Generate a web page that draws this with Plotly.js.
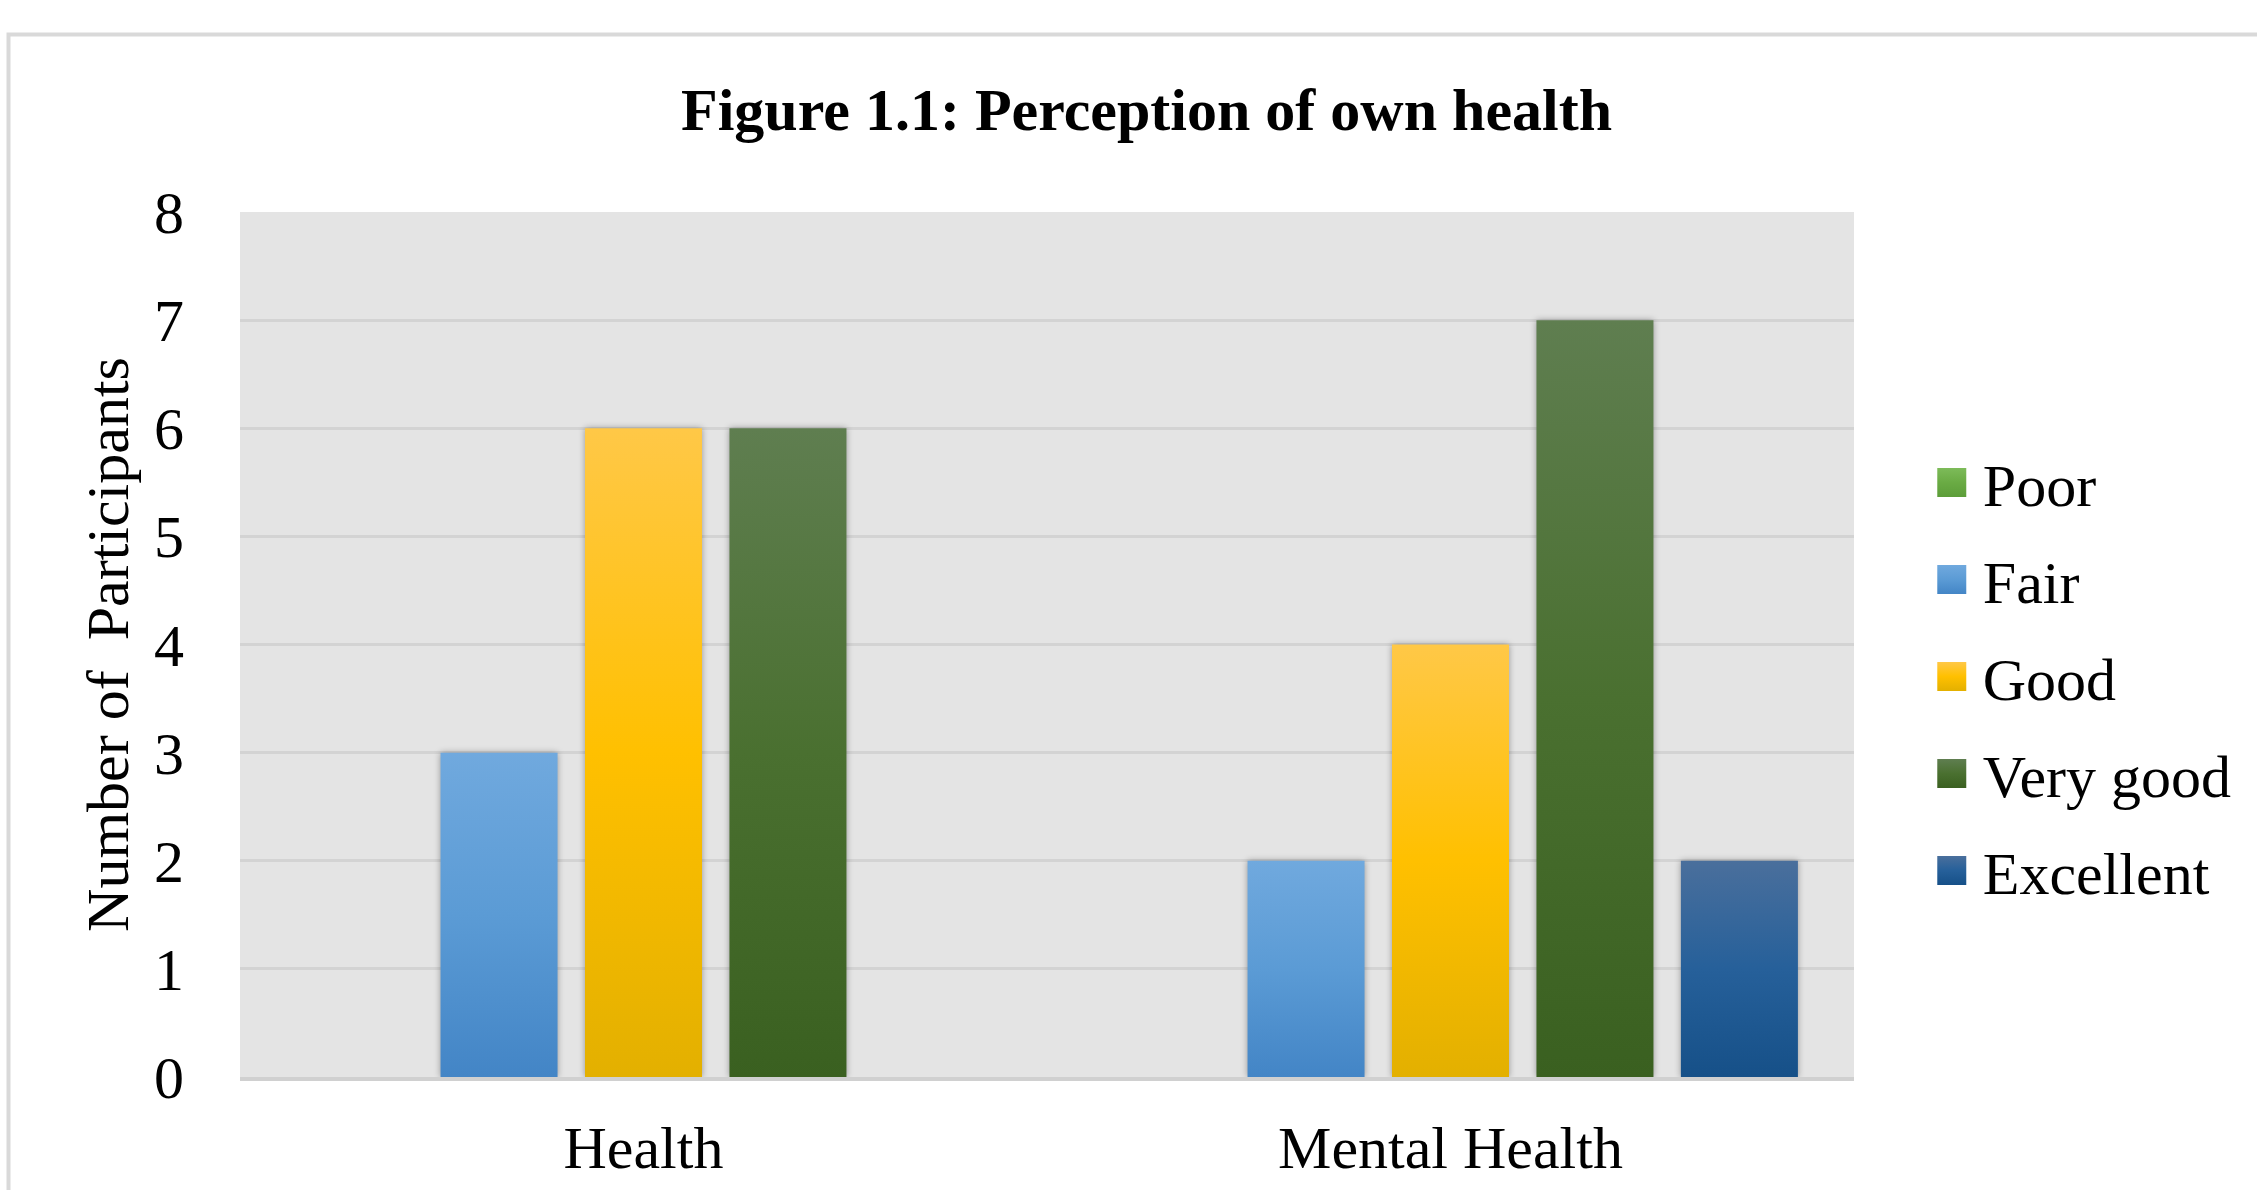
<!DOCTYPE html>
<html>
<head>
<meta charset="utf-8">
<script src="https://cdn.plot.ly/plotly-3.0.1.min.js"></script>
<style>
  html, body { margin: 0; padding: 0; background: #ffffff; }
  #chart { width: 2257px; height: 1190px; }
</style>
</head>
<body>
<div id="chart"></div>
<script>
// ---- Data ----
const categories = ['Health', 'Mental Health'];
const seriesNames = ['Poor', 'Fair', 'Good', 'Very good', 'Excellent'];
const poor = [0, 0];
const fair = [3, 2];
const good = [6, 4];
const veryGood = [6, 7];
const excellent = [0, 2];
const yTicks = [0, 1, 2, 3, 4, 5, 6, 7, 8];

const seriesValues = [poor, fair, good, veryGood, excellent];
// base, top, bottom gradient colours
const seriesColors = ['#6aab44', '#5b9bd5', '#ffc000', '#4a7030', '#26609a'];
const gradTop = ['#7dbb59', '#70a9de', '#ffc847', '#5f7e50', '#4a6f9c'];
const gradBot = ['#5c9d39', '#4385c6', '#e3b000', '#3a6020', '#165088'];

const FONT = 'Liberation Serif, Times New Roman, serif';

const traces = seriesNames.map((name, i) => ({
  type: 'bar',
  name: name,
  x: categories,
  y: seriesValues[i],
  legendgroup: 'g' + i,
  marker: { color: seriesColors[i], line: { width: 0 } },
  hoverinfo: 'x+y+name'
}));

const layout = {
  width: 2257,
  height: 1190,
  margin: { l: 240, r: 403, t: 212, b: 113 },
  paper_bgcolor: '#ffffff',
  plot_bgcolor: '#e4e4e4',
  font: { family: FONT, size: 60, color: '#000000' },
  title: {
    text: '<b>Figure 1.1: Perception of own health</b>',
    font: { family: FONT, size: 60, color: '#000000' },
    x: 0.508, xref: 'container', xanchor: 'center',
    y: 0.908, yref: 'container', yanchor: 'middle'
  },
  barmode: 'group',
  bargap: 0.105,
  bargroupgap: 0.19,
  xaxis: {
    type: 'category',
    tickfont: { family: FONT, size: 60, color: '#000000' },
    ticks: 'outside', ticklen: 15, tickcolor: 'rgba(0,0,0,0)',
    showline: true, linecolor: '#d0d0d0', linewidth: 4,
    showgrid: false, zeroline: false
  },
  yaxis: {
    range: [0, 8],
    tickvals: yTicks,
    tickfont: { family: FONT, size: 60, color: '#000000' },
    ticks: 'outside', ticklen: 43, tickcolor: 'rgba(0,0,0,0)',
    showgrid: true, gridcolor: '#d3d3d3', gridwidth: 2.5,
    zeroline: false, showline: false,
    title: {
      text: 'Number of  Participants',
      font: { family: FONT, size: 60, color: '#000000' },
      standoff: 6
    }
  },
  legend: {
    x: 1.055, xanchor: 'left',
    y: 0.463, yanchor: 'middle',
    font: { family: FONT, size: 60, color: '#000000' },
    traceorder: 'grouped',
    tracegroupgap: 16,
    bgcolor: 'rgba(0,0,0,0)'
  },
  shapes: [{
    type: 'rect', xref: 'paper', yref: 'paper',
    x0: (8.5 - 240) / 1614, x1: (2300 - 240) / 1614,
    y0: (1077 - 1250) / 865, y1: 1 + (212 - 34.5) / 865,
    line: { color: '#d9d9d9', width: 4 },
    fillcolor: 'rgba(0,0,0,0)',
    layer: 'above'
  }]
};

function addGradients() {
  const gd = document.getElementById('chart');
  const svg = gd.querySelector('svg.main-svg');
  if (!svg) return;
  const NS = 'http://www.w3.org/2000/svg';
  let defs = svg.querySelector('defs#custom-grads');
  if (!defs) {
    defs = document.createElementNS(NS, 'defs');
    defs.setAttribute('id', 'custom-grads');
    svg.insertBefore(defs, svg.firstChild);
    seriesNames.forEach((n, i) => {
      const lg = document.createElementNS(NS, 'linearGradient');
      lg.setAttribute('id', 'grad' + i);
      lg.setAttribute('x1', '0'); lg.setAttribute('y1', '0');
      lg.setAttribute('x2', '0'); lg.setAttribute('y2', '1');
      [[0, gradTop[i]], [0.5, seriesColors[i]], [1, gradBot[i]]].forEach(([o, c]) => {
        const s = document.createElementNS(NS, 'stop');
        s.setAttribute('offset', String(o));
        s.setAttribute('stop-color', c);
        lg.appendChild(s);
      });
      defs.appendChild(lg);
    });
  }
  // bars
  gd.querySelectorAll('.barlayer .trace.bars').forEach((tr, i) => {
    tr.querySelectorAll('path').forEach(p => {
      p.style.fill = 'url(#grad' + i + ')';
      p.style.filter = 'drop-shadow(0px 0px 3px rgba(0,0,0,0.35))';
    });
  });
  // legend: let larger symbols show outside the default clip box
  gd.querySelectorAll('.legend .scrollbox').forEach(s => s.removeAttribute('clip-path'));
  // legend symbols
  gd.querySelectorAll('.legend .traces').forEach((tr, i) => {
    tr.querySelectorAll('.legendpoints path').forEach(p => {
      p.setAttribute('d', 'M14.5,14.5H-14.5V-14.5H14.5Z');
      p.setAttribute('transform', 'translate(9,0)');
      p.style.fill = 'url(#grad' + i + ')';
      p.style.fillOpacity = '1';
      p.style.strokeWidth = '0';
    });
  });
}

Plotly.newPlot('chart', traces, layout, { displayModeBar: false, responsive: false })
  .then(gd => {
    addGradients();
    gd.on('plotly_afterplot', addGradients);
  });
</script>
</body>
</html>
